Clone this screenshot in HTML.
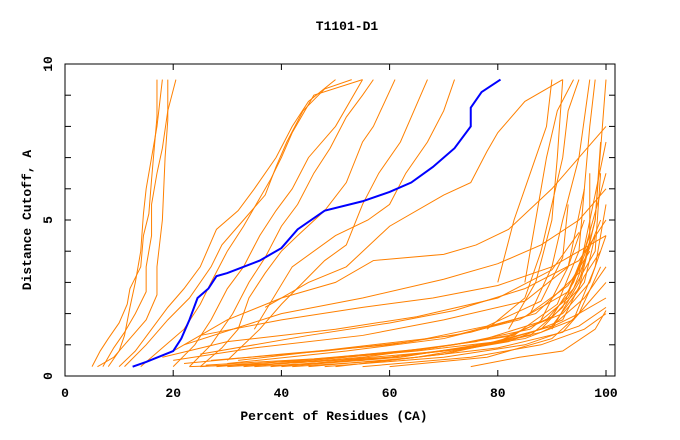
<!DOCTYPE html>
<html><head><meta charset="utf-8"><style>
body{margin:0;background:#fff}
svg{display:block}
text{font-family:"Liberation Mono",monospace;font-weight:bold;fill:#000}
</style></head><body>
<svg id="chart" width="680" height="440" xmlns="http://www.w3.org/2000/svg">
<text x="347" y="30" font-size="13" text-anchor="middle">T1101-D1</text>
<text x="334" y="420" font-size="13" text-anchor="middle">Percent of Residues (CA)</text>
<text x="0" y="0" font-size="13" text-anchor="middle" transform="translate(31,220) rotate(-90)">Distance Cutoff, A</text>
<g id="axes"></g>
<g id="series"></g>
<rect x="65" y="64" width="550" height="312" fill="none" stroke="#000" stroke-width="1"/>
</svg>
<script>
const xTicks=[0,20,40,60,80,100];
const yTickLabels=[0,5,10];
const yMinor=[1,2,3,4,5,6,7,8,9,10];
const highlight=[[12.5,0.3],[15,0.45],[20,0.8],[21.5,1.2],[23,1.8],[24.5,2.5],[26.5,2.8],[28,3.2],[30,3.3],[36,3.7],[40,4.1],[43,4.7],[48,5.3],[55,5.6],[60,5.9],[64,6.2],[68,6.7],[72,7.3],[75,8],[75,8.6],[77,9.1],[80.5,9.5]];
const others=[
[[5,0.3],[6.5,0.8],[8,1.2],[10,1.7],[11.5,2.3],[12,2.8],[14,3.5],[14.5,4.5],[15.5,5.2],[16,6.3],[16.5,7.3],[17,8.3],[17,9.5]],
[[7,0.3],[9,0.9],[11,1.4],[13,2],[15,2.7],[15,3.5],[16,4.5],[16,5.5],[17,6.5],[18,7.3],[19,8.5],[20.5,9.5]],
[[8,0.3],[10,0.8],[11,1.3],[12,2.2],[13,3],[14,4],[14.5,5.2],[15,6],[16,7],[17,8],[18,9.5]],
[[6,0.3],[9,0.6],[12,1.2],[15,1.8],[17,2.6],[17,3.5],[18,5],[18.5,7],[19,8.2],[19,9.5]],
[[10,0.3],[13,0.8],[16,1.5],[19,2.2],[22,2.8],[25,3.5],[28,4.7],[32,5.3],[35,6],[39,7],[42,8],[45,8.8],[50,9.5]],
[[11,0.3],[15,1],[19,1.8],[23,2.5],[27,3.5],[29,4.2],[33,5],[37,5.8],[39,6.7],[41,7.5],[44,8.5],[48,9.2],[53,9.5]],
[[14,0.3],[18,0.9],[22,1.5],[25,2.3],[27,3],[30,4],[33,4.8],[36,5.7],[38,6.3],[40,7],[42,7.8],[46,9],[55,9.5]],
[[20,0.3],[24,1],[27,1.8],[30,2.8],[33,3.5],[36,4.5],[39,5.3],[42,6],[45,7],[50,8],[55,9.5]],
[[23,0.3],[27,1],[31,2],[34,3],[37,3.8],[40,4.8],[43,5.5],[46,6.5],[49,7.3],[52,8.3],[55,9],[57,9.5]],
[[25,0.3],[29,0.9],[32,1.5],[34,2.5],[37,3.3],[40,4],[43,4.5],[48,5.3],[52,6.2],[55,7.5],[57,8],[61,9.5]],
[[30,0.5],[36,1.5],[40,2.3],[44,3],[48,3.7],[52,4.2],[55,5.5],[58,6.5],[62,7.5],[64,8.3],[67,9.5]],
[[35,1.5],[42,3.5],[50,4.5],[56,5],[60,5.5],[63,6.5],[67,7.5],[70,8.5],[72,9.5]],
[[37,2.2],[45,3],[52,3.5],[60,4.8],[70,5.8],[75,6.2],[78,7.2],[80,7.8],[85,8.8],[92,9.5]],
[[20,0.8],[30,1.8],[40,2.5],[50,3.0],[57,3.7],[70,3.9],[76,4.2],[82,4.7],[90,6],[95,7],[100,8]],
[[22,1],[40,2.0],[55,2.5],[70,3.1],[80,3.6],[88,4.2],[95,5],[100,6]],
[[25,1.3],[40,1.8],[55,2.2],[68,2.5],[80,2.9],[90,3.5],[100,4.5]],
[[25,0.7],[45,1.3],[60,1.7],[72,2.1],[85,2.8],[95,3.7],[100,5]],
[[78,1.5],[85,2.5],[88,4],[90,5.5],[92,7],[93,8.5],[95,9.5]],
[[82,1.5],[87,3],[90,5],[91,7],[92,9.5]],
[[86,2],[90,3.5],[92,5],[95,7],[97,9.5]],
[[88,1.8],[93,3.5],[96,6],[97,8],[98,9.5]],
[[90,1.5],[95,3],[98,5],[100,9.5]],
[[85,3],[87,5],[89,7],[91,8.5],[94,9.5]],
[[80,3],[83,5],[86,6.5],[89,8],[90,9.5]],
[[23,0.3],[40,0.4],[60,0.6],[75,0.9],[88,1.4],[95,2],[100,2.5]],
[[25,0.3],[45,0.5],[65,0.8],[80,1.1],[90,1.6],[96,2.5],[100,3.5]],
[[28,0.3],[50,0.6],[68,0.9],[82,1.3],[92,2],[97,3],[100,4.5]],
[[30,0.3],[50,0.5],[70,0.8],[85,1.2],[94,1.8],[98,3.5],[100,5.5]],
[[33,0.3],[55,0.6],[72,1],[86,1.5],[93,2.5],[98,4],[99,6.5]],
[[35,0.3],[55,0.5],[75,0.9],[88,1.5],[95,2.8],[98,5],[99,7.5]],
[[38,0.3],[60,0.6],[78,1],[90,1.6],[96,3],[98,4.5]],
[[40,0.3],[62,0.6],[80,1.1],[90,1.9],[94,3],[97,4.3],[97,5]],
[[42,0.3],[60,0.5],[80,0.9],[92,1.4],[96,2.2],[100,3]],
[[45,0.3],[65,0.6],[82,1.1],[92,1.8],[96,3.2],[99,4]],
[[22,0.4],[40,0.7],[60,1.0],[75,1.4],[85,1.9],[93,2.9],[97,4]],
[[20,0.5],[35,0.9],[55,1.3],[70,1.8],[85,2.4],[93,3.5],[96,5]],
[[18,0.6],[30,1.1],[50,1.5],[65,1.9],[80,2.5],[90,3.4],[95,4.6]],
[[48,0.3],[70,0.6],[85,1.0],[95,1.6],[100,2.2]],
[[55,0.3],[75,0.6],[88,1.0],[96,1.5],[100,2]],
[[60,0.3],[78,0.6],[90,1.2],[95,2],[99,3.5]],
[[75,0.3],[84,0.6],[92,0.8],[98,1.5],[100,2.1]],
[[50,0.3],[70,0.7],[86,1.3],[92,2.2],[95,3.5],[97,4.5],[97,6.5]],
[[30,0.4],[52,0.8],[70,1.2],[84,1.8],[93,2.7],[96,4],[100,6.5]],
[[32,0.5],[52,0.9],[72,1.3],[87,2.0],[95,3.3],[100,7.5]],
[[26,0.35],[46,0.55],[66,0.85],[83,1.3],[91,2.3],[95,4],[96,6]],
[[36,0.35],[58,0.7],[76,1.1],[89,1.8],[94,2.8],[99,5]],
[[27,0.5],[48,0.8],[64,1.1],[78,1.6],[88,2.4],[92,3.8],[93,5.5]]
];
const X=v=>65+5.41*v, Y=v=>376-31.2*v;
const NS="http://www.w3.org/2000/svg";
const ax=document.getElementById('axes'), sg=document.getElementById('series');
function mk(t,a,p){const e=document.createElementNS(NS,t);for(const k in a)e.setAttribute(k,a[k]);p.appendChild(e);return e;}
xTicks.forEach(v=>{
 const t=mk('line',{x1:X(v),x2:X(v),y1:376,y2:370,stroke:'#000'},ax);
 
 
 const t2=mk('line',{x1:X(v),x2:X(v),y1:64,y2:70,stroke:'#000'},ax);
 
 
 const l=mk('text',{x:X(v),y:397,'font-size':13,'text-anchor':'middle'},ax);
 l.textContent=v;
 
 
});
yMinor.forEach(v=>{
 const t=mk('line',{x1:65,x2:71,y1:Y(v),y2:Y(v),stroke:'#000'},ax);
 
 
 const t2=mk('line',{x1:609,x2:615,y1:Y(v),y2:Y(v),stroke:'#000'},ax);
 
 
});
yTickLabels.forEach(v=>{
 const l=mk('text',{x:0,y:0,'font-size':13,'text-anchor':'middle',transform:`translate(52,${Y(v)}) rotate(-90)`},ax);
 l.textContent=v;
 
 
});
others.forEach(s=>{
 const p=mk('polyline',{points:s.map(d=>X(d[0])+','+Y(d[1])).join(' '),fill:'none',stroke:'#ff8000','stroke-width':1},sg);
 
 
});
const h=mk('polyline',{points:highlight.map(d=>X(d[0])+','+Y(d[1])).join(' '),fill:'none',stroke:'#0000ff','stroke-width':2},sg);


</script>
</body></html>
